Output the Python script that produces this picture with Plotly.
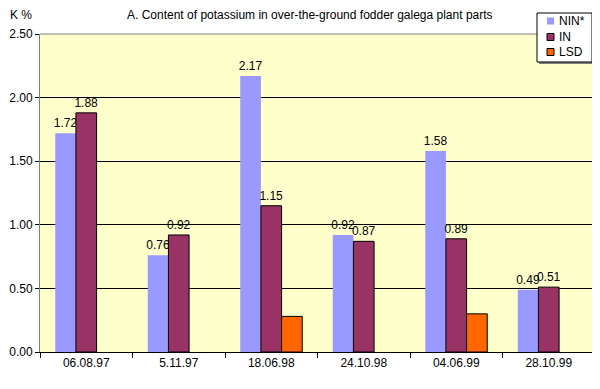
import plotly.graph_objects as go

categories = ["06.08.97", "5.11.97", "18.06.98", "24.10.98", "04.06.99", "28.10.99"]
nin = [1.72, 0.76, 2.17, 0.92, 1.58, 0.49]
in_ = [1.88, 0.92, 1.15, 0.87, 0.89, 0.51]
lsd = [None, None, 0.28, None, 0.30, None]
ytick_vals = [0, 0.5, 1.0, 1.5, 2.0, 2.5]
series_names = ["NIN*", "IN", "LSD"]
series_colors = ["#9999FF", "#993366", "#FF6600"]

FAM = "Arial, Liberation Sans, sans-serif"
font = dict(family=FAM, size=12, color="black")

OFF = 8  # page body margin
W, H = 600 - OFF, 389 - OFF
# plot area in screen pixels: x 40..595, y 34..352
L, R, T, B = 40 - OFF, 600 - 595, 34 - OFF, 389 - 352
PW, PH = W - L - R, H - T - B

def px(x):
    return (x - OFF - L) / PW

def py(y):
    return (H - B - (y - OFF)) / PH

fig = go.Figure()
fig.add_bar(x=categories, y=nin, name=series_names[0],
            marker=dict(color=series_colors[0], line=dict(width=0)),
            text=[f"{v:.2f}" for v in nin], textposition="outside", cliponaxis=False,
            textfont=font)
fig.add_bar(x=categories, y=in_, name=series_names[1],
            marker=dict(color=series_colors[1], line=dict(color="black", width=1)),
            text=[f"{v:.2f}" for v in in_], textposition="outside", cliponaxis=False,
            textfont=font)
fig.add_bar(x=categories, y=lsd, name=series_names[2],
            marker=dict(color=series_colors[2], line=dict(color="black", width=1)))

fig.update_layout(
    width=W, height=H,
    margin=dict(l=L, r=R, t=T, b=B, autoexpand=False),
    paper_bgcolor="white", plot_bgcolor="#FFFFCC",
    font=font,
    barmode="group", bargap=0.33, bargroupgap=0,
    showlegend=False,
    uniformtext=dict(minsize=12, mode="show"),
)

fig.add_annotation(text="A. Content of potassium in over-the-ground fodder galega plant parts",
                   x=px(310), y=py(15), xref="paper", yref="paper",
                   showarrow=False, font=font, xanchor="center", yanchor="middle")
fig.add_annotation(text="K %", x=px(8), y=py(15), xref="paper", yref="paper",
                   showarrow=False, font=font, xanchor="left", yanchor="middle")

fig.update_yaxes(range=[0, 2.5], tickvals=ytick_vals, tickformat=".2f",
                 showgrid=True, gridcolor="black", gridwidth=1,
                 showline=True, linecolor="#808080", linewidth=1,
                 ticks="outside", ticklen=4, tickcolor="black", zeroline=False,
                 tickfont=font)
fig.update_xaxes(showline=True, linecolor="black", linewidth=1,
                 ticks="outside", tickson="boundaries", ticklen=5, tickcolor="black",
                 tickfont=font)

# plot-area border (top/right)
fig.add_shape(type="line", xref="paper", yref="paper", x0=0, x1=1, y0=1, y1=1,
              line=dict(color="#808080", width=1))
fig.add_shape(type="line", xref="paper", yref="paper", x0=1, x1=1, y0=0, y1=1,
              line=dict(color="#808080", width=1))

# manual legend
fig.add_shape(type="rect", xref="paper", yref="paper",
              x0=px(539), x1=px(594), y0=py(64), y1=py(15),
              line=dict(width=0), fillcolor="#808080", layer="above")
fig.add_shape(type="rect", xref="paper", yref="paper",
              x0=px(537), x1=px(592), y0=py(62), y1=py(13),
              line=dict(color="black", width=1), fillcolor="white", layer="above")
rows = [21, 37, 52]
for name, col, yy in zip(series_names, series_colors, rows):
    line = dict(width=0) if name == "NIN*" else dict(color="black", width=1)
    fig.add_shape(type="rect", xref="paper", yref="paper",
                  x0=px(547), x1=px(554), y0=py(yy + 3.5), y1=py(yy - 3.5),
                  fillcolor=col, line=line, layer="above")
    fig.add_annotation(text=name, x=px(557), y=py(yy), xref="paper", yref="paper",
                       showarrow=False, font=font, xanchor="left", yanchor="middle")

fig.write_html("out.html")
